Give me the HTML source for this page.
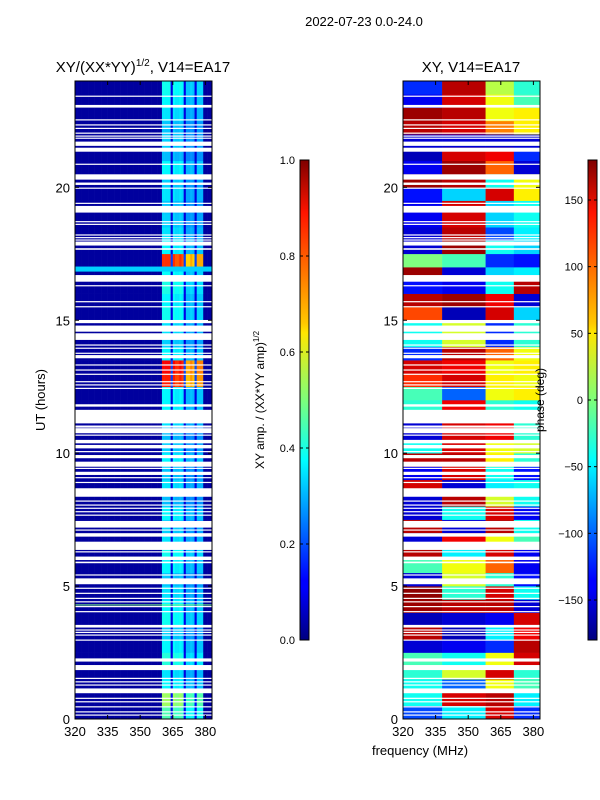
<!DOCTYPE html>
<html><head><meta charset="utf-8"><style>
body{margin:0;background:#fff;}
svg{display:block;font-family:"Liberation Sans",sans-serif;}
</style></head><body>
<svg id="c" width="600" height="800" xmlns="http://www.w3.org/2000/svg">
<defs>
<linearGradient id="jet" x1="0" y1="1" x2="0" y2="0">
<stop offset="0" stop-color="#00007f"/><stop offset="0.11" stop-color="#0000ff"/><stop offset="0.125" stop-color="#0000ff"/><stop offset="0.34" stop-color="#00dcff"/><stop offset="0.375" stop-color="#00ffff"/><stop offset="0.5" stop-color="#7dff7a"/><stop offset="0.64" stop-color="#ffe600"/><stop offset="0.66" stop-color="#ffc800"/><stop offset="0.89" stop-color="#ff1400"/><stop offset="1" stop-color="#7f0000"/>
</linearGradient>
</defs>
<text x="364" y="26" font-size="13" text-anchor="middle">2022-07-23 0.0-24.0</text>
<text x="143" y="72" font-size="15" text-anchor="middle">XY/(XX*YY)<tspan font-size="10" dy="-6">1/2</tspan><tspan dy="6">, V14=EA17</tspan></text>
<text x="471" y="72" font-size="15" text-anchor="middle">XY, V14=EA17</text>
<g id="left"></g>
<g id="right"></g>
<g id="axes"></g>
<text x="45" y="400" font-size="13" text-anchor="middle" transform="rotate(-90 45 400)">UT (hours)</text>
<text x="420" y="755" font-size="13" text-anchor="middle">frequency (MHz)</text>
<rect x="300" y="160" width="9" height="480" fill="url(#jet)" stroke="#000" stroke-width="1"/>
<rect x="588" y="160" width="9" height="480" fill="url(#jet)" stroke="#000" stroke-width="1"/>
<text x="264" y="400" font-size="12" text-anchor="middle" transform="rotate(-90 264 400)">XY amp. / (XX*YY amp)<tspan font-size="8" dy="-5">1/2</tspan></text>
<text x="544" y="400" font-size="12" text-anchor="middle" transform="rotate(-90 544 400)">phase (deg)</text>
<g id="cbticks"></g>
</svg>
<script>
const NS="http://www.w3.org/2000/svg";
const flags=[[23.41,23.45],[23.0,23.1],[22.52,22.56],[22.33,22.37],[22.2,22.24],[22.02,22.06],[21.91,21.95],[21.83,21.87],[21.56,21.72],[21.34,21.49],[20.85,20.89],[20.29,20.49],[20.09,20.18],[19.95,19.99],[19.38,19.42],[19.05,19.3],[18.69,18.73],[18.59,18.63],[18.19,18.23],[18.09,18.13],[18.0,18.04],[17.81,17.96],[17.65,17.71],[16.45,16.7],[16.28,16.32],[15.68,15.72],[15.49,15.53],[14.89,15.01],[14.57,14.8],[14.26,14.51],[14.05,14.09],[13.93,13.97],[13.74,13.78],[13.57,13.69],[13.3,13.34],[13.11,13.15],[12.95,12.99],[12.67,12.71],[12.55,12.59],[12.42,12.46],[11.75,11.84],[11.12,11.63],[10.96,11.04],[10.75,10.94],[10.66,10.7],[10.37,10.5],[10.18,10.31],[10.04,10.08],[9.81,9.93],[9.49,9.68],[9.41,9.45],[9.18,9.3],[9.06,9.1],[8.88,8.92],[8.36,8.68],[8.18,8.22],[8.03,8.07],[7.91,7.95],[7.78,7.82],[7.65,7.69],[7.2,7.45],[7.09,7.13],[6.86,6.99],[6.36,6.67],[6.27,6.31],[5.98,6.11],[5.86,5.92],[5.4,5.44],[5.07,5.29],[4.9,4.94],[4.71,4.75],[4.52,4.56],[4.39,4.43],[4.21,4.25],[4.02,4.06],[3.44,3.54],[3.33,3.37],[3.24,3.28],[3.14,3.18],[2.95,2.99],[2.16,2.28],[1.84,2.03],[1.51,1.55],[1.38,1.42],[1.26,1.3],[0.97,1.15],[0.76,0.8],[0.63,0.67],[0.44,0.48],[0.25,0.29],[0.13,0.17]];
const ampColWeight=[0,0,0,0,0,0,0,0,0,0,0,0,0,0,0,0,0,0,0,0,0,0,0,0,0,0,0,0,0,0,0,0,0,0,0,0,0,0,0,0,1,1,1,1,0.2,1,0.95,0.95,1,0.95,0.2,0.8,0.8,0.85,0.8,0.2,0.85,0.85,0.85,0,0,0,0];
const ampRowLevel=[0.42,0.5,0.34,0.32,0.38,0.34,0.3,0.36,0.34,0.32,0.29,0.34,0.36,0.32,0.3,0.34,0.28,0.32,0.29,0.34,0.3,0.28,0.32,0.34,0.34,0.82,0.85,0.34,0.3,0.32,0.36,0.34,0.37,0.35,0.8,0.34,0.32,0.3,0.29,0.32,0.3,0.34,0.28,0.3,0.29,0.32,0.34,0.36];
const ampBands=[[16.83,17.02,0.33],[4.27,4.31,0.5]];
const phaseColEdges=[320,338,358,371,383.1];
const phaseRows=[[-110,-50,150,-120],[-40,150,160,-50],[-40,-100,40,-20],[-30,30,150,-30],[-20,-40,40,150],[-150,-140,-120,160],[160,-160,-50,140],[-160,-150,-140,150],[170,160,160,-150],[175,-30,150,-40],[-150,30,-30,-130],[-20,40,100,-140],[160,-50,150,-140],[-150,140,40,-20],[160,-150,160,-40],[-150,-40,150,-140],[-150,160,30,-40],[150,-150,-50,-40],[-140,150,-40,-130],[160,160,50,-30],[-40,150,40,30],[-150,150,140,-30],[-150,150,140,-30],[-30,140,-30,-40],[-20,-100,40,50],[120,150,50,40],[150,140,40,50],[-120,160,100,40],[-40,30,-120,-30],[-40,30,-120,-30],[110,-160,150,-60],[160,170,140,-150],[-130,-140,-40,160],[170,-150,-60,-50],[0,-20,-120,-130],[-150,170,-40,-60],[-150,160,-110,-50],[-140,150,-60,-40],[-140,150,-60,-40],[-130,-60,150,50],[170,160,-40,40],[-140,170,100,-150],[-160,150,140,-120],[-150,-150,-150,-150],[160,150,90,50],[170,160,40,50],[-140,150,40,-20],[-120,160,20,-30]];
const xTicks=[320,335,350,365,380];
const yTicks=[0,5,10,15,20];
const ampTicks=[0,0.2,0.4,0.6,0.8,1.0];
const phaseTicks=[-150,-100,-50,0,50,100,150];

const Y0=719,Y1=81;
const yS=h=>Y0-(h/24)*(Y0-Y1);
function xS(f,x0){return x0+(f-320)*(32.6/15);}
function jet(v){v=Math.max(0,Math.min(1,v));const c=t=>Math.round(255*Math.max(0,Math.min(1,1.5-Math.abs(4*v-t))));return `rgb(${c(3)},${c(2)},${c(1)})`;}
function rect(g,x,y,w,h,fill){const r=document.createElementNS(NS,'rect');r.setAttribute('x',x);r.setAttribute('y',y);r.setAttribute('width',w);r.setAttribute('height',h);r.setAttribute('fill',fill);g.appendChild(r);return r;}
const L=document.getElementById('left'),R=document.getElementById('right');
ampRowLevel.forEach((lev,i)=>{
  ampColWeight.forEach((w,j)=>{
    const f=320+j;const x=xS(f,75),x2=Math.min(xS(f+1,75),212);
    const r=rect(L,x,yS(i*0.5+0.5),x2-x+0.3,yS(i*0.5)-yS(i*0.5+0.5)+0.3,jet(0.03+w*lev));
    
    
  });
});
ampBands.forEach(b=>{const r=rect(L,75,yS(b[1]),137,yS(b[0])-yS(b[1]),jet(b[2]));
  
  });
phaseRows.forEach((row,i)=>{
  row.forEach((p,j)=>{
    const x=xS(phaseColEdges[j],403),x2=xS(phaseColEdges[j+1],403);
    const r=rect(R,x,yS(i*0.5+0.5),x2-x+0.3,yS(i*0.5)-yS(i*0.5+0.5)+0.3,jet((p+180)/360));
    
    
  });
});
[[L,75],[R,403]].forEach(([g,x0])=>{
  flags.forEach(fl=>{const r=rect(g,x0,yS(fl[1]),137,Math.max(1.2,yS(fl[0])-yS(fl[1])),'#fff');
    
    });
});
const A=document.getElementById('axes');
function line(g,x1,y1,x2,y2){const l=document.createElementNS(NS,'line');l.setAttribute('x1',x1);l.setAttribute('y1',y1);l.setAttribute('x2',x2);l.setAttribute('y2',y2);l.setAttribute('stroke','#000');l.setAttribute('stroke-width','1');g.appendChild(l);}
function text(g,x,y,s,anchor,size,name){const t=document.createElementNS(NS,'text');t.setAttribute('x',x);t.setAttribute('y',y);t.setAttribute('text-anchor',anchor);t.setAttribute('font-size',size);t.textContent=s;
  
  
  g.appendChild(t);}
[75,403].forEach(x0=>{
  const fr=document.createElementNS(NS,'rect');fr.setAttribute('x',x0);fr.setAttribute('y',Y1);fr.setAttribute('width',137);fr.setAttribute('height',Y0-Y1);fr.setAttribute('fill','none');fr.setAttribute('stroke','#000');
  
  
  A.appendChild(fr);
  xTicks.forEach(f=>{const x=xS(f,x0);line(A,x,Y0,x,Y0-4);line(A,x,Y1,x,Y1+4);text(A,x,736,String(f),'middle',13,'x-tick-label');});
  yTicks.forEach(h=>{const y=yS(h);line(A,x0,y,x0+4,y);line(A,x0+137,y,x0+133,y);text(A,x0-5,y+5,String(h),'end',13,'y-tick-label');});
});
const C=document.getElementById('cbticks');
ampTicks.forEach(v=>{const y=640-v*480;line(C,300,y,303,y);line(C,309,y,306,y);text(C,295,y+4,v.toFixed(1),'end',11,'amp-colorbar-tick');});
phaseTicks.forEach(v=>{const y=400-v*480/360;line(C,588,y,591,y);line(C,597,y,594,y);text(C,583,y+4,v<0?'\u2212'+(-v):String(v),'end',11,'phase-colorbar-tick');});
</script>
</body></html>
